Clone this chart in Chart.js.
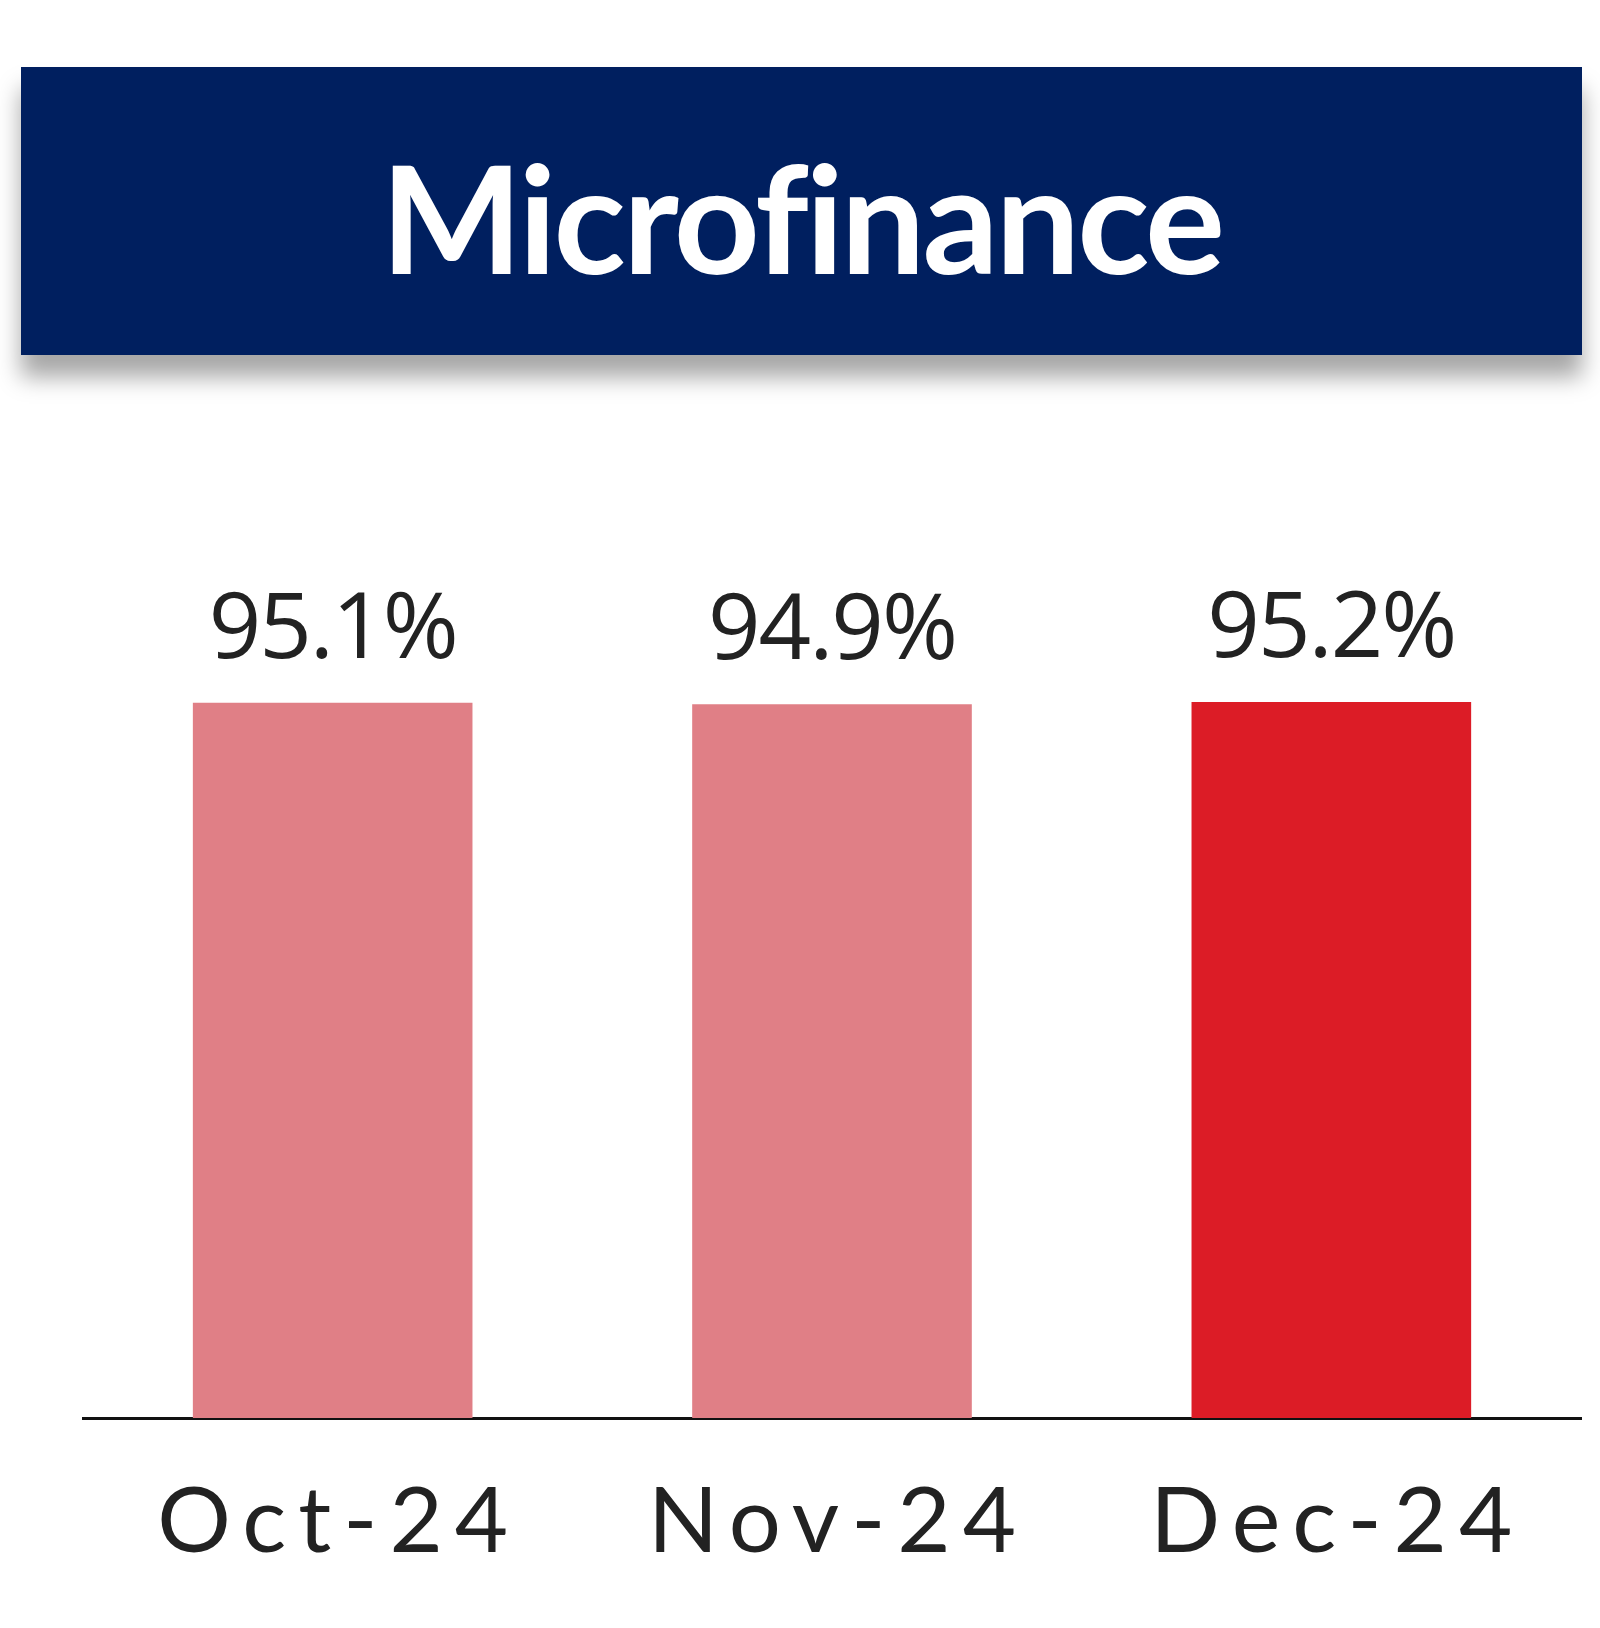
<!DOCTYPE html>
<html><head><meta charset="utf-8">
<script src="https://cdn.jsdelivr.net/npm/chart.js@4"></script>
<style>
html,body{margin:0;padding:0;background:#fff;width:1600px;height:1628px;overflow:hidden;position:relative}
#title{position:absolute;left:21px;top:67px;width:1561px;height:288px;background:#001f5f;box-shadow:0 22px 22px rgba(0,0,0,0.35);color:#fff;font:bold 150px Lato,"Open Sans",sans-serif;display:flex;align-items:center;justify-content:center;letter-spacing:-3px;padding-top:10px;box-sizing:border-box}
#wrap{position:absolute;left:0;top:400px;width:1600px;height:1228px}
</style></head><body>
<div id="title">Microfinance</div>
<div id="wrap"><canvas id="c"></canvas></div>
<script>
const categories=["Oct-24","Nov-24","Dec-24"];
const values=[95.1,94.9,95.2];
const barColors=["#e07f86","#e07f86","#dc1c26"];
const labelPlugin={id:"lbl",afterDatasetsDraw(chart){
  const ctx=chart.ctx;const meta=chart.getDatasetMeta(0);const xs=chart.scales.x;
  ctx.save();ctx.fillStyle="#222";ctx.textAlign="center";
  ctx.font="92px 'Open Sans', Lato, sans-serif";ctx.textBaseline="alphabetic";
  ctx.letterSpacing="-2px";
  meta.data.forEach((b,i)=>ctx.fillText(values[i].toFixed(1)+"%",b.x,b.y-45));
  ctx.font="92px Lato, 'Open Sans', sans-serif";
  ctx.letterSpacing="12px";ctx.textBaseline="middle";
  categories.forEach((c,i)=>ctx.fillText(c,xs.getPixelForValue(i)+6,chart.chartArea.bottom+104));
  ctx.restore();}};
new Chart(document.getElementById("c"),{type:"bar",
 data:{labels:categories,datasets:[{data:values,backgroundColor:barColors,categoryPercentage:1,barPercentage:0.56}]},
 options:{responsive:true,maintainAspectRatio:false,animation:false,
  layout:{padding:{top:266,bottom:100,left:83,right:19}},
  plugins:{legend:{display:false},tooltip:{enabled:false}},
  scales:{
   x:{grid:{display:false},border:{color:"#111",width:3},ticks:{display:false},afterFit(s){s.height=110;}},
   y:{display:false,min:0,max:100}}},
 plugins:[labelPlugin]});
</script></body></html>
